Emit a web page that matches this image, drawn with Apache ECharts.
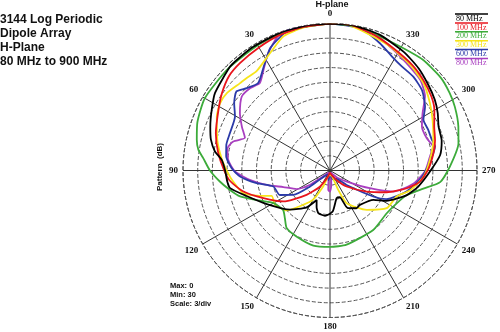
<!DOCTYPE html>
<html><head><meta charset="utf-8">
<script src="https://cdn.jsdelivr.net/npm/echarts@6/dist/echarts.min.js"></script>
<style>html,body{margin:0;padding:0;background:#fff}#c{width:500px;height:332px}</style>
</head><body><div id="c"></div>
<script>
// ---- data ----
const seriesNames = ['80 MHz', '100 MHz', '200 MHz', '300 MHz', '600 MHz', '800 MHz'];
const seriesColors = ['#000000', '#e8141c', '#3cab3a', '#f7e51a', '#2b3aa8', '#a93fc0'];
const titleLines = ['3144 Log Periodic', 'Dipole Array', 'H-Plane', '80 MHz to 900 MHz'];
const infoLines = ['Max: 0', 'Min: 30', 'Scale: 3/div'];

const ang80 = [0, 9, 20, 32, 40, 44, 56, 63, 70, 75.5, 80.6, 84.4, 90, 96, 100, 107, 118, 134.5, 147.5, 155.6, 160, 164.7, 173.7, 183.7, 193.5, 200, 205, 215, 221, 236, 241.8, 252, 259.7, 269.4, 278, 285, 292, 298, 304, 311, 319, 328, 340, 351, 360];
const db80  = [0, 0, -0.1, -0.3, -0.5, -0.6, -1.7, -2.9, -4.0, -4.9, -6.2, -7.8, -8.6, -8.9, -9.3, -12.2, -15.4, -18.6, -21.1, -23.4, -22.0, -21.0, -20.7, -21.6, -24.2, -24.2, -21.6, -20.6, -20.7, -19.3, -16.9, -13.6, -11.7, -9.6, -7.3, -6.4, -6.1, -5.1, -4.2, -3.4, -2.4, -1.5, -0.5, 0, 0];

const ang100 = [0, 10, 20, 30, 40, 47, 54.5, 61.5, 72, 81, 90, 96, 103.6, 112.5, 123.6, 136, 148, 160, 180, 200, 215, 226, 240, 249, 257, 263, 271, 279.5, 286, 293, 300, 306, 314, 322, 332.6, 342, 352, 360];
const db100  = [0, -0.2, -0.5, -1.0, -1.4, -1.8, -2.9, -4.1, -5.5, -6.9, -8.4, -9.5, -11.8, -15.3, -18.6, -23.1, -26.1, -28.5, -29.5, -29, -27.5, -25.3, -21.4, -17.6, -13.9, -11.5, -9.9, -8.6, -7.7, -6.9, -5.4, -4.4, -3.5, -2.7, -1.9, -0.9, 0, 0];

const ang200 = [0, 10, 20, 30, 45, 60, 70, 77, 81, 84.4, 90, 95.7, 101, 106, 112, 120, 130, 136.6, 143, 153, 167.5, 180, 192.6, 216, 233, 244, 252, 259, 264, 272, 282, 289, 297, 303, 310, 320, 329, 339.5, 349.5, 360];
const db200  = [0, -0.2, -0.4, -0.5, -0.6, -0.5, -1.2, -2.1, -2.8, -4.0, -5.5, -7.4, -9.2, -10.9, -13.9, -16.7, -17.5, -16.6, -15.3, -14.9, -14.3, -14.4, -14.5, -15.0, -15.5, -14.8, -13.6, -10.6, -7.4, -5.5, -3.2, -2.3, -1.4, -0.9, -0.5, -0.5, -0.9, -0.8, -0.1, 0];

const ang300 = [0, 10, 19, 27, 36.5, 42, 46, 53, 58.5, 64.5, 75, 84, 90.5, 96.5, 104.7, 110, 113.5, 122, 132.7, 142, 150, 157, 170, 190, 203, 207, 223, 236.4, 248.7, 256, 266, 276, 286.5, 296, 304, 313, 323, 334, 345, 353.5, 360];
const db300  = [0, -0.3, -1.0, -3.1, -4.8, -4.6, -4.4, -3.7, -3.7, -4.4, -6.2, -7.8, -9.0, -10.1, -11.7, -14.8, -17.0, -16.8, -18.0, -21.1, -23.2, -26.5, -29, -29, -25.7, -22.5, -19.0, -16.1, -15.4, -13.2, -10.9, -9.5, -8.0, -6.7, -5.4, -3.9, -2.9, -1.9, -1.0, 0, 0];

const ang600 = [0, 15.7, 20, 26, 32.4, 39.4, 45.3, 49.8, 54.9, 60.4, 69.5, 76, 82, 88.6, 93.8, 99.8, 105.8, 116, 123.6, 128.7, 132.6, 150, 170, 180, 200, 215, 229, 239, 243, 254.7, 264, 273, 283, 286.8, 292.5, 298.5, 304, 311, 318.4, 325.4, 331.6, 338.6, 348, 360];
const db600  = [0, 0, -0.8, -2.2, -4.8, -6.9, -6.1, -5.0, -6.1, -7.7, -8.2, -8.2, -8.6, -9.9, -11.6, -14.8, -18.0, -18.6, -21.0, -24.8, -27.7, -29, -28, -29, -28, -28, -25.5, -19.7, -17.1, -13.8, -11.6, -9.9, -8.0, -8.3, -8.3, -8.3, -6.6, -5.1, -4.4, -4.2, -3.5, -2.1, -0.3, 0];

const ang800 = [0, 13, 20, 27.7, 33.5, 38.7, 44, 50, 57.5, 63.5, 69, 73.3, 77.7, 84, 90.6, 96.7, 102.8, 109.6, 119, 125.6, 130, 150, 175, 180, 185, 200, 225, 236.6, 246, 251.6, 261, 269.6, 278, 283, 288.5, 295.6, 301.7, 308, 315, 324.5, 332, 342.5, 352, 360];
const db800  = [0, 0, -0.2, -2.9, -5.4, -7.1, -6.6, -6.5, -8.2, -9.9, -11.4, -9.4, -8.6, -9.1, -10.6, -13.5, -16.7, -19.9, -22.2, -25.0, -28, -29.5, -26, -25.7, -27, -29.5, -28, -25.9, -21.1, -16.4, -12.8, -10.6, -9.4, -8.4, -9.2, -9.2, -7.8, -5.4, -3.9, -3.1, -2.2, -0.6, 0, 0];

const angleSets = [ang80, ang100, ang200, ang300, ang600, ang800];
const dbSets = [db80, db100, db200, db300, db600, db800];

// ---- chart ----
const chart = echarts.init(document.getElementById('c'), null, {renderer: 'canvas'});
const cx = 330, cy = 170.5, R = 147;

const series = seriesNames.map((name, i) => ({
  name: name,
  type: 'line',
  coordinateSystem: 'polar',
  symbol: 'none',
  smooth: 0.2,
  z: 10 - i,
  lineStyle: {color: seriesColors[i], width: 1.8},
  itemStyle: {color: seriesColors[i]},
  data: angleSets[i].map((a, k) => [dbSets[i][k], a])
}));

const graphics = [];
titleLines.forEach((t, i) => graphics.push({
  type: 'text', left: 0, top: 14 + i * 13.8,
  style: {text: t, font: 'bold 12px "Liberation Sans", Arial, sans-serif', fill: '#111'}
}));
graphics.push({type: 'text', x: 332, y: 5, style: {text: 'H-plane', font: 'bold 9px "Liberation Sans", Arial, sans-serif', fill: '#111', align: 'center', verticalAlign: 'middle'}});
graphics.push({type: 'text', x: 160, y: 167, rotation: Math.PI / 2, style: {text: 'Pattern  (dB)', font: 'bold 8px "Liberation Sans", Arial, sans-serif', fill: '#111', align: 'center', verticalAlign: 'middle'}});
infoLines.forEach((t, i) => graphics.push({
  type: 'text', x: 170, y: 286 + i * 9,
  style: {text: t, font: 'bold 7.5px "Liberation Sans", Arial, sans-serif', fill: '#111', verticalAlign: 'middle'}
}));
seriesNames.forEach((n, i) => {
  graphics.push({type: 'line', shape: {x1: 455, y1: 14 + i * 8.9, x2: 488, y2: 14 + i * 8.9}, style: {stroke: seriesColors[i], lineWidth: 1.5}});
  graphics.push({type: 'text', x: 456, y: 18.6 + i * 8.9, style: {text: n, font: '8px "Liberation Serif", "Times New Roman", serif', fill: seriesColors[i], verticalAlign: 'middle'}});
});

chart.setOption({
  animation: false,
  backgroundColor: '#ffffff',
  polar: {center: [cx, cy], radius: R},
  angleAxis: {
    type: 'value', min: 0, max: 360, interval: 30,
    startAngle: 90, clockwise: false,
    axisLine: {show: true, lineStyle: {color: '#555', width: 1, type: [4, 2]}},
    axisTick: {show: false},
    axisLabel: {
      show: true, margin: 5,
      formatter: v => (v === 360 ? '' : String(v)),
      color: '#111', fontFamily: '"Liberation Serif", "Times New Roman", serif', fontWeight: 'bold', fontSize: 9
    },
    splitLine: {show: true, lineStyle: {color: '#333', width: 1}}
  },
  radiusAxis: {
    type: 'value', min: -30, max: 0, interval: 3,
    axisLine: {show: false},
    axisTick: {show: false},
    axisLabel: {show: false},
    splitLine: {show: true, lineStyle: {color: '#555', width: 1, type: [4, 2]}}
  },
  series: series,
  graphic: graphics
});
</script>
</body></html>
